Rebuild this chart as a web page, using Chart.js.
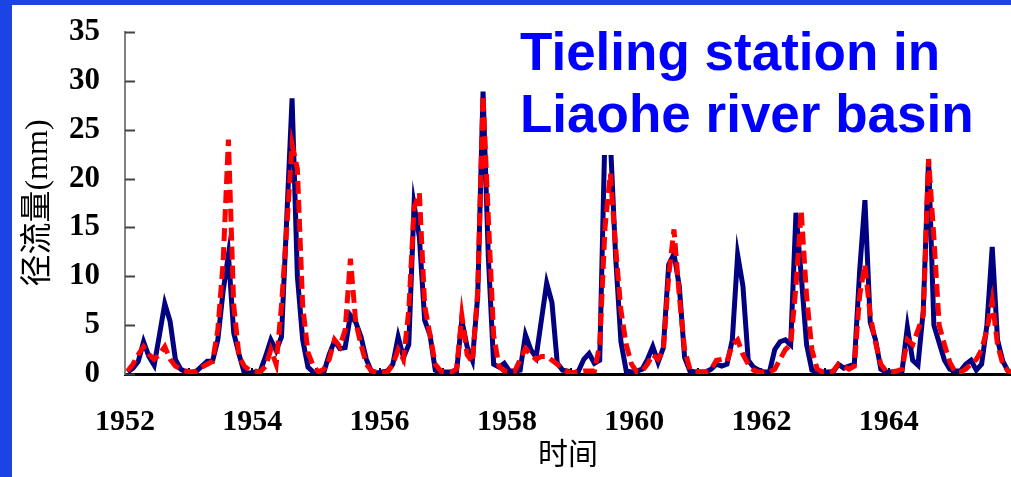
<!DOCTYPE html>
<html>
<head>
<meta charset="utf-8">
<script src="https://cdn.jsdelivr.net/npm/chart.js@4"></script>
<style>
  html, body { margin: 0; padding: 0; background: #fff; }
  #wrap { position: relative; width: 1011px; height: 477px; overflow: hidden; background: #fff; }
  #chart { position: absolute; left: 0; top: 0; }
  .bar-left { position: absolute; left: 0; top: 0; width: 12px; height: 477px; background: #1c44e4; }
  .bar-top { position: absolute; left: 0; top: 0; width: 1011px; height: 5px; background: #1c44e4; }
  #title {
    position: absolute; left: 512px; top: 10px; width: 480px; height: 145px;
    box-sizing: border-box; padding: 11px 0 0 8px; background: #fff;
    color: #0000ff; font: bold 53px/62px "Liberation Sans", Arial, sans-serif; white-space: nowrap;
  }
</style>
</head>
<body>
<div id="wrap">
  <canvas id="chart" width="1011" height="477"></canvas>
  <div id="title">Tieling station in<br>Liaohe river basin</div>
  <div class="bar-left"></div>
  <div class="bar-top"></div>
</div>
<script>
const startYear = 1952;
const yTicks = [0, 5, 10, 15, 20, 25, 30, 35];
const xLabels = [1952, 1954, 1956, 1958, 1960, 1962, 1964];
const yearMarks = [1953, 1954, 1955, 1956, 1957, 1958, 1959, 1960, 1961, 1962, 1963, 1964, 1965];

// monthly runoff (mm), Jan..Dec per row
const observed = [
  0.2, 0.6, 1.3, 3.3, 1.8, 0.9, 4.0, 7.2, 5.4, 1.5, 0.5, 0.2,    // 1952
  0.1, 0.3, 0.8, 1.3, 1.3, 3.5, 8.5, 12.2, 4.2, 2.0, 0.1, 0.1,   // 1953
  0.2, 0.3, 1.8, 3.5, 2.4, 3.8, 16.0, 28.2, 10.0, 3.5, 0.7, 0.2, // 1954
  0.1, 0.2, 2.0, 3.4, 2.6, 2.7, 6.0, 5.3, 3.8, 1.5, 0.2, 0.1,    // 1955
  0.2, 0.3, 1.0, 3.8, 1.7, 3.0, 17.3, 14.0, 5.5, 4.0, 0.4, 0.2,  // 1956
  0.2, 0.2, 0.2, 5.5, 2.8, 1.4, 8.0, 28.9, 12.0, 1.0, 0.7, 1.1,  // 1957
  0.3, 0.3, 0.4, 4.0, 2.5, 1.7, 5.5, 9.3, 7.3, 1.1, 0.4, 0.3,    // 1958
  0.1, 0.3, 1.5, 2.1, 1.1, 1.4, 25.0, 24.0, 12.0, 3.3, 0.3, 0.2, // 1959
  0.3, 0.5, 1.5, 2.8, 1.2, 2.7, 11.2, 12.3, 9.0, 1.7, 0.3, 0.2,  // 1960
  0.2, 0.2, 0.5, 1.0, 0.8, 1.0, 3.5, 12.2, 9.0, 1.4, 0.7, 0.4,   // 1961
  0.2, 0.2, 2.5, 3.3, 3.5, 3.0, 16.5, 10.0, 3.0, 0.4, 0.2, 0.2,  // 1962
  0.2, 0.2, 1.0, 0.6, 0.8, 1.0, 10.5, 17.8, 5.3, 3.5, 0.5, 0.2,  // 1963
  0.2, 0.2, 0.3, 4.8, 1.4, 0.9, 6.5, 22.0, 5.0, 3.2, 1.4, 0.5,   // 1964
  0.3, 0.3, 1.0, 1.4, 0.4, 1.0, 5.0, 13.0, 3.5, 1.3, 0.3, 0.1    // 1965
];

const simulated = [
  0.3, 1.0, 2.0, 2.8, 2.0, 1.5, 2.0, 2.8, 1.5, 0.8, 0.5, 0.3,    // 1952
  0.2, 0.3, 0.7, 1.0, 1.3, 4.5, 11.5, 24.0, 7.0, 1.8, 0.8, 0.4,  // 1953
  0.3, 0.2, 0.8, 2.5, 1.0, 7.0, 15.0, 23.5, 21.0, 7.0, 2.2, 0.8, // 1954
  0.2, 0.5, 1.5, 3.5, 2.8, 4.5, 11.8, 5.3, 3.0, 1.0, 0.3, 0.2,   // 1955
  0.2, 0.2, 1.0, 2.5, 1.5, 6.5, 17.0, 18.5, 7.0, 4.0, 1.0, 0.3,  // 1956
  0.2, 0.2, 0.5, 6.0, 2.0, 1.2, 8.5, 28.5, 16.0, 4.0, 0.8, 0.3,  // 1957
  0.3, 0.3, 1.5, 2.6, 2.0, 1.5, 1.8, 1.8, 1.4, 1.0, 0.5, 0.2,    // 1958
  0.1, 0.2, 0.3, 0.3, 0.3, 3.0, 15.0, 20.5, 13.0, 6.5, 3.0, 1.0, // 1959
  0.2, 0.3, 1.0, 2.0, 1.5, 2.5, 10.0, 14.8, 8.0, 2.5, 0.5, 0.3,  // 1960
  0.2, 0.2, 0.5, 1.4, 1.5, 1.3, 3.0, 3.5, 2.0, 1.0, 0.4, 0.2,    // 1961
  0.2, 0.2, 0.5, 1.5, 2.5, 3.0, 9.0, 16.7, 8.0, 2.5, 0.5, 0.2,   // 1962
  0.2, 0.3, 1.0, 0.8, 0.5, 0.8, 8.0, 11.2, 6.0, 3.2, 1.0, 0.3,   // 1963
  0.2, 0.3, 0.5, 3.5, 3.0, 4.5, 6.0, 22.0, 14.0, 5.0, 3.0, 1.2,  // 1964
  0.2, 0.2, 0.5, 1.0, 1.5, 2.5, 4.5, 7.5, 3.0, 1.0, 0.3, 0.1     // 1965
];

// month i sits in the middle of its slot
function toPoints(arr) {
  return arr.map((v, i) => ({ x: startYear + (i + 0.5) / 12, y: v }));
}

const serifFont = '"Liberation Serif", "Times New Roman", serif';
const titleFont = '"Liberation Serif", "Noto Sans CJK SC", serif';

// small inward tick marks like the original
const tickMarks = {
  id: 'tickMarks',
  beforeDatasetsDraw(chart) {
    const { ctx, chartArea, scales: { x, y } } = chart;
    ctx.save();
    ctx.lineWidth = 2;
    ctx.strokeStyle = '#444';
    yTicks.forEach(v => {
      const py = Math.round(y.getPixelForValue(v)) + 0.5;
      ctx.beginPath();
      ctx.moveTo(chartArea.left, py);
      ctx.lineTo(chartArea.left + 10, py);
      ctx.stroke();
    });
    ctx.strokeStyle = '#000';
    yearMarks.forEach(yr => {
      const px = Math.round(x.getPixelForValue(yr));
      ctx.beginPath();
      ctx.moveTo(px, chartArea.bottom);
      ctx.lineTo(px, chartArea.bottom - 6);
      ctx.stroke();
    });
    ctx.restore();
  }
};

new Chart(document.getElementById('chart'), {
  type: 'line',
  data: {
    datasets: [
      {
        label: '模拟',
        data: toPoints(simulated),
        borderColor: '#ff0000',
        borderWidth: 5,
        borderDash: [13, 6],
        pointRadius: 0,
        tension: 0,
        order: 0
      },
      {
        label: '实测',
        data: toPoints(observed),
        borderColor: '#000080',
        borderWidth: 5,
        pointRadius: 0,
        tension: 0,
        order: 1
      }
    ]
  },
  options: {
    responsive: false,
    animation: false,
    layout: { padding: { top: 32, right: 0, left: 0, bottom: 0 } },
    plugins: { legend: { display: false }, tooltip: { enabled: false } },
    scales: {
      x: {
        type: 'linear',
        min: 1952,
        max: 1965.92,
        grid: { display: false, drawTicks: false },
        border: { display: true, color: '#000', width: 3 },
        afterBuildTicks: s => { s.ticks = xLabels.map(v => ({ value: v })); },
        afterFit: s => { s.height = 103; },
        ticks: {
          autoSkip: false, maxRotation: 0, padding: 30, color: '#000',
          font: { family: serifFont, size: 30, weight: 'bold' },
          callback: v => String(v)
        },
        title: {
          display: true, text: '时间', color: '#000',
          font: { family: titleFont, size: 30 },
          padding: { top: 0, bottom: 3 }
        }
      },
      y: {
        min: 0,
        max: 35,
        grid: { display: false, drawTicks: false },
        border: { display: true, color: '#808080', width: 2 },
        afterBuildTicks: s => { s.ticks = yTicks.map(v => ({ value: v })); },
        afterFit: s => { s.width = 125; s.paddingTop = 0; s.paddingBottom = 0; },
        ticks: {
          padding: 25, color: '#000',
          font: { family: serifFont, size: 31, weight: 'bold' }
        },
        title: {
          display: true, text: '径流量(mm)', color: '#000',
          font: { family: titleFont, size: 32 },
          padding: { top: 19, bottom: 0 }
        }
      }
    }
  },
  plugins: [tickMarks]
});
</script>
</body>
</html>
